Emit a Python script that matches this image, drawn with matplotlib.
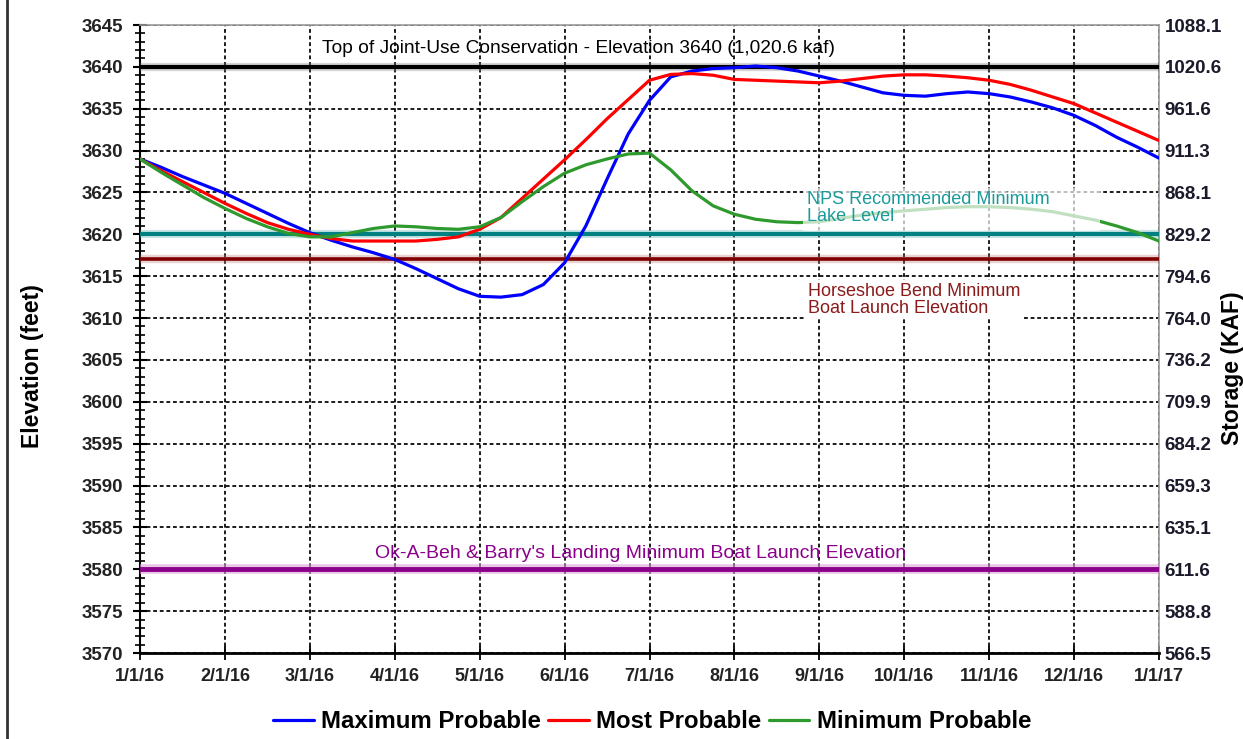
import matplotlib
matplotlib.use('Agg')
import matplotlib.pyplot as plt
import matplotlib.patheffects as pe
from matplotlib.ticker import MultipleLocator, FixedLocator
from matplotlib.lines import Line2D
from matplotlib.patches import Rectangle

# ---------------- data ----------------
month_labels = ['1/1/16', '2/1/16', '3/1/16', '4/1/16', '5/1/16', '6/1/16', '7/1/16',
                '8/1/16', '9/1/16', '10/1/16', '11/1/16', '12/1/16', '1/1/17']

# readings taken every quarter month, from 1/1/16 to 1/1/17 (49 readings)
quarters_per_month = 4

max_probable = [3629.0, 3628.0, 3626.9, 3625.9,   # Jan
                3624.9, 3623.7, 3622.5, 3621.3,   # Feb
                3620.2, 3619.3, 3618.5, 3617.8,   # Mar
                3617.0, 3615.9, 3614.7, 3613.5,   # Apr
                3612.6, 3612.5, 3612.8, 3614.0,   # May
                3616.6, 3621.0, 3626.6, 3632.0,   # Jun
                3636.0, 3638.8, 3639.5, 3639.8,   # Jul
                3639.9, 3640.1, 3639.9, 3639.5,   # Aug
                3638.9, 3638.3, 3637.6, 3636.9,   # Sep
                3636.6, 3636.5, 3636.8, 3637.0,   # Oct
                3636.8, 3636.4, 3635.8, 3635.1,   # Nov
                3634.2, 3633.0, 3631.6, 3630.4,   # Dec
                3629.1]

most_probable = [3629.0, 3627.6, 3626.3, 3625.0,
                 3623.7, 3622.5, 3621.4, 3620.6,
                 3620.0, 3619.5, 3619.2, 3619.2,
                 3619.2, 3619.2, 3619.4, 3619.7,
                 3620.6, 3622.0, 3624.3, 3626.6,
                 3628.9, 3631.3, 3633.8, 3636.1,
                 3638.4, 3639.1, 3639.2, 3639.0,
                 3638.5, 3638.4, 3638.3, 3638.2,
                 3638.1, 3638.3, 3638.6, 3638.9,
                 3639.05, 3639.05, 3638.9, 3638.7,
                 3638.4, 3637.9, 3637.2, 3636.4,
                 3635.6, 3634.5, 3633.4, 3632.3,
                 3631.2]

min_probable = [3629.0, 3627.4, 3625.9, 3624.4,
                3623.1, 3621.9, 3620.9, 3620.1,
                3619.7, 3619.7, 3620.2, 3620.7,
                3621.0, 3620.9, 3620.7, 3620.6,
                3620.9, 3622.0, 3623.9, 3625.7,
                3627.3, 3628.3, 3629.0, 3629.6,
                3629.7, 3627.7, 3625.2, 3623.4,
                3622.4, 3621.8, 3621.5, 3621.4,
                3621.5, 3621.9, 3622.3, 3622.6,
                3622.8, 3623.0, 3623.2, 3623.3,
                3623.3, 3623.2, 3623.0, 3622.7,
                3622.2, 3621.7, 3621.0, 3620.2,
                3619.2]

elev_ticks = [3570, 3575, 3580, 3585, 3590, 3595, 3600, 3605, 3610, 3615, 3620, 3625,
              3630, 3635, 3640, 3645]
storage_labels = ['566.5', '588.8', '611.6', '635.1', '659.3', '684.2', '709.9', '736.2',
                  '764.0', '794.6', '829.2', '868.1', '911.3', '961.6', '1020.6', '1088.1']

ref_top_joint_use = 3640
ref_nps_min = 3620
ref_horseshoe = 3617
ref_okabeh = 3580

xs = [i / quarters_per_month for i in range(len(max_probable))]

# ---------------- figure ----------------
plt.rcParams['font.family'] = ['Liberation Sans', 'DejaVu Sans']
W, H = 1243, 739
fig = plt.figure(figsize=(W / 100, H / 100), dpi=100)
ax = fig.add_axes([140 / W, 1 - 653 / H, (1159 - 140) / W, (653 - 25) / H])

ax.set_xlim(0, 12)
ax.set_ylim(3570, 3645)

# grid
ax.xaxis.set_major_locator(FixedLocator(range(13)))
ax.set_xticklabels(month_labels)
ax.yaxis.set_major_locator(MultipleLocator(5))
ax.yaxis.set_minor_locator(MultipleLocator(1))
ax.grid(True, which='major', color='black', linestyle=(0, (2.2, 1.6)), linewidth=1.25, zorder=1)
ax.set_axisbelow(True)

# reference lines
halo = lambda c: [pe.Stroke(linewidth=6, foreground=c, alpha=0.35), pe.Normal()]
ax.axhline(ref_top_joint_use, color='black', lw=3, zorder=3, path_effects=halo('#888888'))
ax.axhline(ref_nps_min, color='#008080', lw=3, zorder=3, path_effects=halo('#66b2b2'))
ax.axhline(ref_horseshoe, color='#800000', lw=2.6, zorder=3, path_effects=halo('#c08080'))
ax.axhline(ref_okabeh, color='#8B008B', lw=3.5, zorder=3,
           path_effects=[pe.Stroke(linewidth=7, foreground='#d9a3d9', alpha=0.6), pe.Normal()])

# series
l1, = ax.plot(xs, max_probable, color='#0000ff', lw=2.3, zorder=4,
              solid_joinstyle='round', solid_capstyle='round')
l2, = ax.plot(xs, most_probable, color='#ff0000', lw=2.3, zorder=4,
              solid_joinstyle='round', solid_capstyle='round')
l3, = ax.plot(xs, min_probable, color='#2e9a2e', lw=2.3, zorder=4,
              solid_joinstyle='round', solid_capstyle='round')

# annotations
ax.text(5.16, 3642.2, 'Top of Joint-Use Conservation - Elevation 3640 (1,020.6 kaf)',
        ha='center', va='center', fontsize=13.8, color='black', zorder=6)

# translucent box behind the NPS label (fades the line beneath)
ax.add_patch(Rectangle((0.651, 0.672), 0.291, 0.068, transform=ax.transAxes,
                       facecolor='white', edgecolor='none', alpha=0.7, zorder=5))
ax.text(7.85, 3623.1, 'NPS Recommended Minimum\nLake Level', ha='left', va='center',
        fontsize=13, color='#1a9a9a', linespacing=1.0, zorder=6)
ax.text(7.87, 3612.2, 'Horseshoe Bend Minimum\nBoat Launch Elevation', ha='left', va='center',
        fontsize=13, color='#8b1a1a', linespacing=1.0, zorder=6,
        bbox=dict(facecolor='white', edgecolor='none', alpha=1.0, pad=1.5))
ax.text(5.9, 3581.9, "Ok-A-Beh & Barry's Landing Minimum Boat Launch Elevation",
        ha='center', va='center', fontsize=14, color='#8B008B', zorder=6)

# axes styling
for s in ['top', 'right']:
    ax.spines[s].set_color('#999999')
    ax.spines[s].set_linewidth(1.2)
ax.spines['left'].set_linewidth(1.5)
ax.spines['bottom'].set_linewidth(2)
ax.tick_params(axis='y', which='major', direction='inout', length=10, width=1.5,
               labelsize=13.5, labelcolor='#222222', pad=7)
ax.tick_params(axis='y', which='minor', direction='inout', length=7, width=1.2)
ax.tick_params(axis='x', which='major', direction='inout', length=10, width=1.3,
               labelsize=13, labelcolor='#222222', pad=6)
for lab in ax.get_xticklabels() + ax.get_yticklabels():
    lab.set_fontweight('bold')

ax2 = ax.twinx()
ax2.set_ylim(ax.get_ylim())
ax2.yaxis.set_major_locator(FixedLocator(elev_ticks))
ax2.set_yticklabels(storage_labels)
ax2.tick_params(axis='y', length=0, labelsize=13.5, labelcolor='#1a1a2a', pad=4)
for lab in ax2.get_yticklabels():
    lab.set_fontweight('bold')
for s in ax2.spines.values():
    s.set_visible(False)

fig.text(33 / W, 1 - 366 / H, 'Elevation (feet)', rotation=90, ha='center', va='center',
         fontsize=16.5, fontweight='bold', color='black')
fig.text(1233 / W, 1 - 368 / H, 'Storage (KAF)', rotation=90, ha='center', va='center',
         fontsize=16.5, fontweight='bold', color='black')

fig.legend([l1, l2, l3], ['Maximum Probable', 'Most Probable', 'Minimum Probable'],
           loc='center', bbox_to_anchor=(652 / W, 1 - 722 / H), ncol=3, frameon=False,
           prop={'weight': 'bold', 'size': 17.3}, handlelength=1.7, handletextpad=0.3,
           columnspacing=0.3)

# figure left border
fig.add_artist(Line2D([7 / W, 7 / W], [0, 1], transform=fig.transFigure,
                      color='#333333', lw=2))

fig.savefig('out.png', dpi=100)
